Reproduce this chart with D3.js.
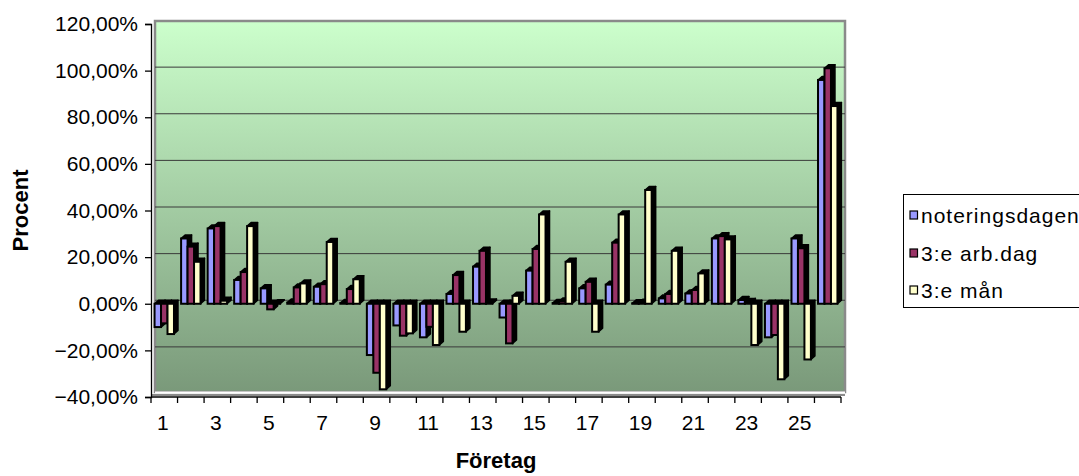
<!DOCTYPE html>
<html>
<head>
<meta charset="utf-8">
<script src="https://cdn.jsdelivr.net/npm/d3@7"></script>
<style>
  html, body { margin: 0; padding: 0; background: #ffffff; }
  svg { display: block; font-family: "Liberation Sans", Arial, sans-serif; }
</style>
</head>
<body>
<svg id="chart" width="1079" height="476"></svg>
<script>
// Companies 1..26 and the return for each measuring point (percent)
const companies = d3.range(1, 27);
const seriesNames = ["noteringsdagen", "3:e arb.dag", "3:e mån"];
const noteringsdagen = [-10, 28, 32.3, 10.2, 6.6, 0.5, 7.3, 0.3, -22, -9.3, -14.4, 4.2, 15.9, -5.9, 14.2, 0.3, 6.6, 8.2, 0.2, 2.3, 4.4, 28, 1.6, -14.4, 28, 96];
const arbDag3 = [-8.4, 24.5, 33.3, 13.6, -2.4, 7, 8.4, 6.3, -29.6, -13.7, -9.9, 12.3, 22.7, -17, 23.5, 1.0, 9.4, 26.2, 0.4, 4.2, 5.9, 29, 0.8, -13.4, 23.8, 101];
const man3 = [-13, 18, 1.3, 33.3, 0.2, 8.7, 26.5, 10.5, -36.7, -12.7, -17.7, -12, 0.5, 3.4, 38.3, 18, -12, 38.3, 48.8, 22.7, 13, 27.6, -17.7, -32.4, -23.9, 84.8];
const yTicks = [-40, -20, 0, 20, 40, 60, 80, 100, 120];
const xTickLabels = [1, 3, 5, 7, 9, 11, 13, 15, 17, 19, 21, 23, 25];

const seriesValues = [noteringsdagen, arbDag3, man3];
const seriesColors = ["#9999FF", "#993366", "#FFFFCC"];

const svgEl = d3.select("#chart");
const plotLeft = 151, plotRight = 841, plotTop = 24, plotBottom = 397;
const depthX = 4, depthY = 3.5;

const sv = d3.formatLocale({ decimal: ",", thousands: " ", grouping: [3], currency: ["", " kr"] });
const pct = v => sv.format(".2f")(v) + "%";

const x = d3.scaleBand().domain(companies).range([plotLeft, plotRight]).paddingInner(0).paddingOuter(0);
const inner = d3.scaleBand().domain(d3.range(3)).range([0, x.bandwidth()]).paddingInner(0).paddingOuter(0.55);
const y = d3.scaleLinear().domain([-40, 120]).range([plotBottom, plotTop]);

// Back wall gradient
const defs = svgEl.append("defs");
const grad = defs.append("linearGradient").attr("id", "wall").attr("x1", 0).attr("y1", 0).attr("x2", 0).attr("y2", 1);
grad.append("stop").attr("offset", "0%").attr("stop-color", "#CCFFCC");
grad.append("stop").attr("offset", "100%").attr("stop-color", "#7A997A");

const wallL = plotLeft + depthX, wallR = plotRight + depthX, wallT = plotTop - depthY + 0.5, wallB = plotBottom - depthY - 1.5;
svgEl.append("rect")
  .attr("x", wallL).attr("y", wallT)
  .attr("width", wallR - wallL).attr("height", wallB - wallT)
  .attr("fill", "url(#wall)")
  .attr("stroke", "#8a8a8a").attr("stroke-width", 2.5);

// Floor edge below the wall
svgEl.append("line")
  .attr("x1", wallL).attr("x2", wallR).attr("y1", wallB + 0.5).attr("y2", wallB + 0.5)
  .attr("stroke", "#ffffff").attr("stroke-width", 2);
svgEl.append("line")
  .attr("x1", plotLeft).attr("x2", wallR).attr("y1", plotBottom - 2).attr("y2", plotBottom - 2)
  .attr("stroke", "#8a8a8a").attr("stroke-width", 2);

// Gridlines drawn on the back wall
svgEl.append("g").selectAll("line")
  .data(yTicks.filter(t => t > -40 && t < 120))
  .join("line")
  .attr("x1", wallL).attr("x2", wallR)
  .attr("y1", d => y(d) - depthY).attr("y2", d => y(d) - depthY)
  .attr("stroke", "#3a3a3a").attr("stroke-width", 1);

// Bars with a shallow depth face
const barW = inner.bandwidth();
const bars = svgEl.append("g");
companies.forEach((c, i) => {
  seriesValues.forEach((vals, s) => {
    const v = vals[i];
    const x0 = x(c) + inner(s);
    const x1 = x0 + barW;
    const yTop = y(Math.max(0, v));
    const yBot = y(Math.min(0, v));
    // top face
    bars.append("polygon")
      .attr("points", [[x0, yTop], [x1, yTop], [x1 + depthX, yTop - depthY], [x0 + depthX, yTop - depthY]].join(" "))
      .attr("fill", "#000").attr("stroke", "#000").attr("stroke-width", 1.5).attr("stroke-linejoin", "round");
    // side face
    bars.append("polygon")
      .attr("points", [[x1, yTop], [x1 + depthX, yTop - depthY], [x1 + depthX, yBot - depthY], [x1, yBot]].join(" "))
      .attr("fill", "#000").attr("stroke", "#000").attr("stroke-width", 1.5).attr("stroke-linejoin", "round");
    // front face
    bars.append("rect")
      .attr("x", x0).attr("y", yTop)
      .attr("width", barW).attr("height", Math.max(0.5, yBot - yTop))
      .attr("fill", seriesColors[s])
      .attr("stroke", "#000").attr("stroke-width", 2);
  });
});

// Y axis
const yAxis = svgEl.append("g").attr("transform", `translate(${plotLeft},0)`)
  .call(d3.axisLeft(y).tickValues(yTicks).tickFormat(pct).tickSizeOuter(0).tickSize(6).tickPadding(7));
yAxis.select(".domain").attr("stroke", "#000").attr("stroke-width", 1.3);
yAxis.selectAll(".tick line").attr("stroke", "#000").attr("stroke-width", 1.3);
yAxis.selectAll(".tick text").attr("font-size", 21).attr("fill", "#000")
  .attr("font-family", "'Liberation Sans', Arial, sans-serif");

// X axis: ticks at category boundaries, labels on every other company
const xg = svgEl.append("g");
xg.append("line").attr("x1", plotLeft).attr("x2", plotRight).attr("y1", plotBottom).attr("y2", plotBottom)
  .attr("stroke", "#000").attr("stroke-width", 1.3);
xg.selectAll("line.tk")
  .data(d3.range(companies.length + 1))
  .join("line").attr("class", "tk")
  .attr("x1", d => plotLeft + d * x.step()).attr("x2", d => plotLeft + d * x.step())
  .attr("y1", plotBottom).attr("y2", plotBottom + 6)
  .attr("stroke", "#000").attr("stroke-width", 1.3);
xg.selectAll("text")
  .data(xTickLabels)
  .join("text")
  .attr("x", d => x(d) + x.bandwidth() / 2 - 1.5)
  .attr("y", 430)
  .attr("text-anchor", "middle")
  .attr("font-size", 21)
  .text(d => d);

// Axis titles
svgEl.append("text")
  .attr("x", (plotLeft + plotRight) / 2).attr("y", 468)
  .attr("text-anchor", "middle").attr("font-size", 22).attr("font-weight", "bold")
  .text("Företag");
svgEl.append("text")
  .attr("transform", `translate(28,${(plotTop + plotBottom) / 2}) rotate(-90)`)
  .attr("text-anchor", "middle").attr("font-size", 22).attr("font-weight", "bold")
  .text("Procent");

// Legend (the box runs off the right edge of the page)
const lg = svgEl.append("g");
lg.append("rect").attr("x", 903.5).attr("y", 194.5).attr("width", 200).attr("height", 113)
  .attr("fill", "#fff").attr("stroke", "#000").attr("stroke-width", 1);
const legendY = [215, 253, 290];
seriesNames.forEach((name, s) => {
  lg.append("rect").attr("x", 910).attr("y", legendY[s] - 4).attr("width", 7.5).attr("height", 8)
    .attr("fill", seriesColors[s]).attr("stroke", "#000").attr("stroke-width", 1.2);
  lg.append("text").attr("x", 921).attr("y", legendY[s] + 7.5).attr("font-size", 21)
    .attr("letter-spacing", 1).text(name);
});
</script>
</body>
</html>
